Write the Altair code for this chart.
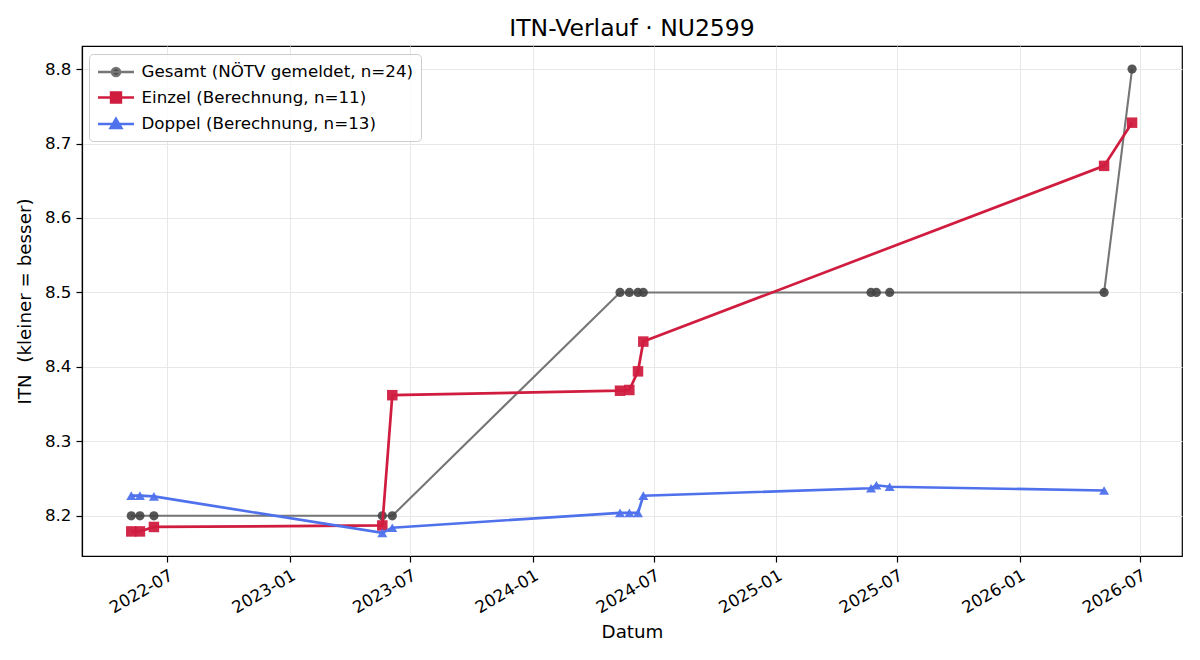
import altair as alt
import pandas as pd

# ---------------- data ----------------
series_names = [
    "Gesamt (NÖTV gemeldet, n=24)",
    "Einzel (Berechnung, n=11)",
    "Doppel (Berechnung, n=13)",
]

gesamt_dates = ["2022-05-08", "2022-05-21", "2022-06-11", "2023-05-20", "2023-06-04",
                "2024-05-11", "2024-05-25", "2024-06-07", "2024-06-15",
                "2025-05-23", "2025-05-31", "2025-06-20", "2026-05-08", "2026-06-19"]
gesamt_itn = [8.2, 8.2, 8.2, 8.2, 8.2, 8.5, 8.5, 8.5, 8.5, 8.5, 8.5, 8.5, 8.5, 8.8]

einzel_dates = ["2022-05-08", "2022-05-21", "2022-06-11", "2023-05-20", "2023-06-04",
                "2024-05-11", "2024-05-25", "2024-06-07", "2024-06-15",
                "2026-05-08", "2026-06-19"]
einzel_itn = [8.179, 8.179, 8.185, 8.187, 8.362, 8.368, 8.369, 8.394, 8.434, 8.670, 8.728]

doppel_dates = ["2022-05-08", "2022-05-21", "2022-06-11", "2023-05-20", "2023-06-04",
                "2024-05-11", "2024-05-25", "2024-06-07", "2024-06-15",
                "2025-05-23", "2025-05-31", "2025-06-20", "2026-05-08"]
doppel_itn = [8.227, 8.227, 8.226, 8.177, 8.184, 8.204, 8.204, 8.204, 8.227,
              8.237, 8.241, 8.239, 8.234]

y_ticks = [8.2, 8.3, 8.4, 8.5, 8.6, 8.7, 8.8]
x_tick_months = [(2022, 7), (2023, 1), (2023, 7), (2024, 1), (2024, 7),
                 (2025, 1), (2025, 7), (2026, 1), (2026, 7)]

# ---------------- styles ----------------
line_colors = ["#767676", "#d01c3f", "#4f72ec"]
marker_colors = ["#444444", "#d01c3f", "#4f72ec"]
FONT = "DejaVu Sans"

def frame(dates, vals, name):
    return pd.DataFrame({"date": dates, "itn": vals, "series": name})

df_g = frame(gesamt_dates, gesamt_itn, series_names[0])
df_e = frame(einzel_dates, einzel_itn, series_names[1])
df_d = frame(doppel_dates, doppel_itn, series_names[2])
df_all = pd.concat([df_g, df_e, df_d], ignore_index=True)

x_enc = alt.X(
    "date:T",
    scale=alt.Scale(type="utc",
                    domain=[alt.DateTime(year=2022, month=2, date=23, utc=True),
                            alt.DateTime(year=2026, month=9, date=2, utc=True)]),
    axis=alt.Axis(
        title="Datum",
        values=[alt.DateTime(year=y, month=m, date=1, utc=True) for y, m in x_tick_months],
        format="%Y-%m",
        labelAngle=-30,
        labelAlign="right",
        labelBaseline="top",
        titlePadding=7,
    ),
)
y_enc = alt.Y(
    "itn:Q",
    scale=alt.Scale(domain=[8.146, 8.831], nice=False, zero=False),
    axis=alt.Axis(title="ITN \u00a0(kleiner = besser)", values=y_ticks, format=".1f",
                  titlePadding=10),
)

def line_layer(df, color, width, opacity):
    return alt.Chart(df).mark_line(color=color, strokeWidth=width, opacity=opacity).encode(
        x=x_enc, y=y_enc)

def point_layer(df, color, shape, size, opacity):
    return alt.Chart(df).mark_point(color=color, shape=shape, size=size, filled=True,
                                    opacity=opacity).encode(x=x_enc, y=y_enc)

# legend layer: custom symbols with line + marker
legend_paths = [
    "M-1,0H3M1.45,0A0.45,0.45,0,1,1,0.55,0A0.45,0.45,0,1,1,1.45,0Z",
    "M-1,0H3M0.45,-0.55H1.55V0.55H0.45Z",
    "M-1,0H3M1,-0.58L1.6,0.45H0.4Z",
]
legend_layer = alt.Chart(df_all).mark_point(opacity=0, filled=True, size=324).encode(
    x=x_enc, y=y_enc,
    fill=alt.Fill("series:N", scale=alt.Scale(domain=series_names, range=marker_colors), title=None),
    stroke=alt.Stroke("series:N", scale=alt.Scale(domain=series_names, range=line_colors), title=None),
    shape=alt.Shape("series:N", scale=alt.Scale(domain=series_names, range=legend_paths),
                    title=None,
                    legend=alt.Legend(
                        orient="none", legendX=7, legendY=8,
                        symbolSize=324, symbolStrokeWidth=2.5, symbolOpacity=1,
                        labelFont=FONT, labelFontSize=16.7, labelColor="black",
                        labelOffset=24, rowPadding=5.5, labelLimit=500,
                        padding=7.5, strokeColor="#cccccc", cornerRadius=4,
                        fillColor="rgba(255,255,255,0.8)",
                    )),
)

chart = alt.layer(
    line_layer(df_g, line_colors[0], 2.1, 1),
    point_layer(df_g, marker_colors[0], "circle", 85, 0.9),
    line_layer(df_e, line_colors[1], 2.7, 1),
    point_layer(df_e, marker_colors[1], "square", 110, 0.95),
    line_layer(df_d, line_colors[2], 2.7, 1),
    point_layer(df_d, marker_colors[2], "triangle-up", 100, 0.95),
    legend_layer,
).properties(
    width=1100,
    height=510,
    background="white",
    title=alt.TitleParams("ITN-Verlauf · NU2599", font=FONT, fontSize=23.5,
                          fontWeight="normal", color="black", offset=6),
    autosize=alt.AutoSizeParams(type="none"),
    padding={"left": 82, "top": 46, "right": 18, "bottom": 104},
).configure_view(
    stroke="black", strokeWidth=1.2,
).configure_axis(
    labelFont=FONT, labelFontSize=16.7, labelColor="black",
    titleFont=FONT, titleFontSize=18.3, titleFontWeight="normal", titleColor="black",
    domainColor="black", domainWidth=1.2, tickColor="black", tickSize=6, tickWidth=1.2,
    labelPadding=5, gridColor="#e8e8e8", gridWidth=1,
)

chart.save("out.html", embed_options={"renderer": "svg", "actions": False})
